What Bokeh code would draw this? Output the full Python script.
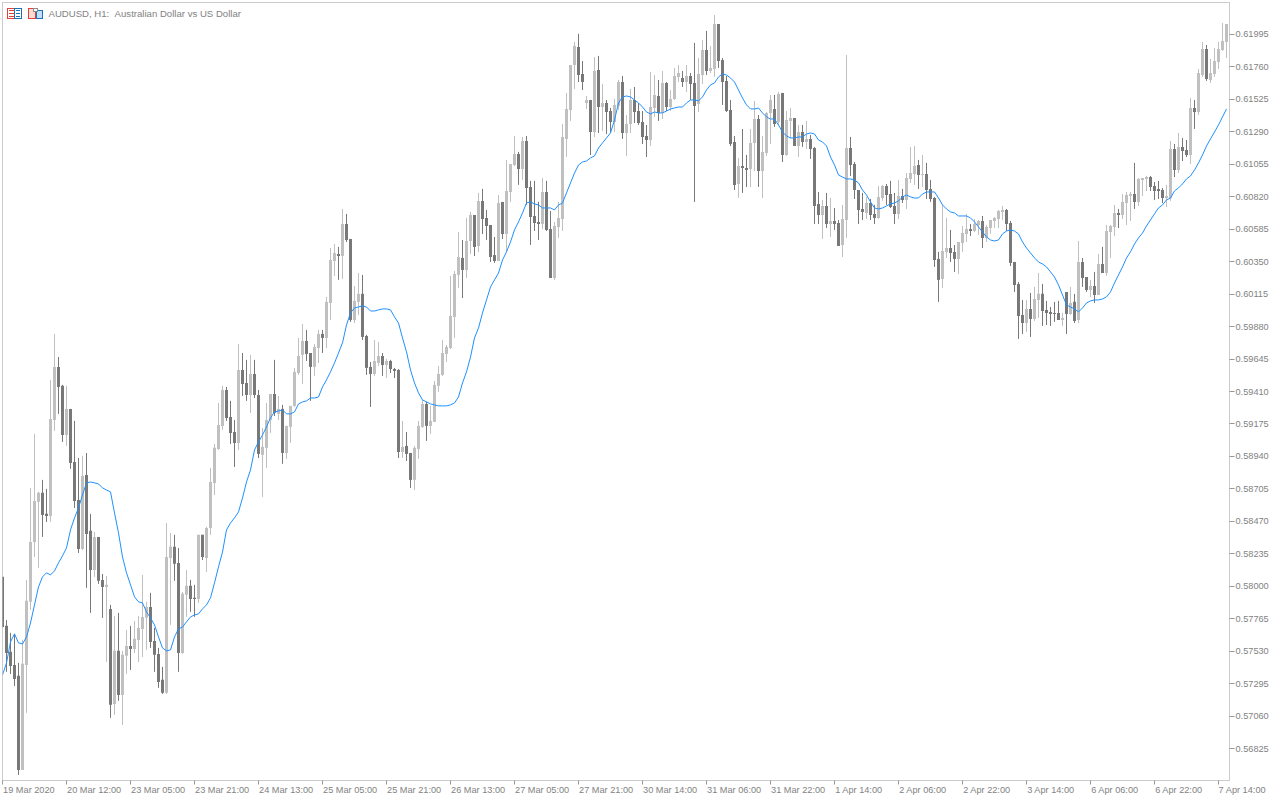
from bokeh.plotting import figure
from bokeh.models import BoxAnnotation, ColumnDataSource, FixedTicker, Label, LinearAxis, PrintfTickFormatter, Range1d
from bokeh.embed import file_html
from bokeh.resources import INLINE

# AUDUSD H1 candles, prices in points (1 point = 0.00001)
highs = [58068,57756,57662,57655,57445,57611,58046,58712,59103,58683,
58770,58705,59494,59827,59660,59458,59451,59284,59197,58929,
58944,58965,58524,58393,58357,58089,58075,57865,57785,57807,
57532,57684,57713,57749,57785,58082,57887,57952,57698,57553,
57416,58458,58386,58372,58277,57959,58118,58046,58010,58372,
58372,58430,58857,59030,59327,59451,59443,59342,59204,59754,
59689,59639,59675,59639,59421,59146,59327,59392,59639,59378,
59313,59161,59306,59581,59798,59899,59856,59689,59754,59856,
59856,60095,60449,60478,60457,60732,60696,60515,60174,60268,
60254,59820,59624,59783,59769,59689,59646,59639,59581,59573,
59197,59117,58965,59016,59197,59349,59335,59306,59487,59595,
59783,59747,60247,60283,60565,60507,60667,60710,60688,60848,
60877,60725,60616,60529,60833,60783,61087,61058,61260,61145,
61253,61260,60935,60935,60783,60956,60935,60717,60638,60783,
61347,61572,61774,61941,62000,61803,61550,61521,61832,61840,
61637,61521,61463,61528,61666,61695,61412,61601,61615,61499,
61441,61340,61724,61702,61666,61731,61651,61593,61753,61774,
61731,61774,61716,61934,61825,61955,62021,61912,62136,62071,
61825,61695,61521,61260,61101,61311,61123,61311,61514,61412,
61260,61434,61557,61557,61579,61572,61441,61463,61391,61340,
61340,61369,61268,61181,60855,60797,60848,60811,60739,60652,
60761,61847,61253,61072,60869,60848,60819,60804,60761,60898,
60906,60913,60935,60848,60942,60877,60992,61181,61188,61087,
61123,61065,60942,60819,60421,60761,60667,60580,60471,60493,
60609,60696,60623,60659,60652,60681,60616,60652,60674,60725,
60754,60732,60645,60348,60203,60073,60073,60124,60167,60268,
60189,60066,60022,60059,60066,59979,60131,60167,60117,60500,
60377,60239,60218,60276,60406,60457,60616,60616,60761,60732,
60840,60855,60855,61065,60956,60956,60971,60971,60927,60935,
60884,60906,61224,61202,61282,61246,61231,61535,61521,61745,
61941,61919,61818,61897,61941,62078,62071]

lows = [57705,57380,57365,57278,56634,56670,57083,57829,58212,58133,
58357,58466,58466,59125,59248,59045,59016,58850,58567,58241,
58263,57988,57807,58068,58017,57771,57452,57047,57068,57170,
56996,57365,57394,57517,57452,57488,57539,57553,57380,57264,
57220,57220,57720,58039,57380,57510,57778,57814,57778,57879,
58190,58104,58372,58661,58987,59132,59197,59030,58864,58987,
59378,59342,59255,59363,58929,58647,58857,59110,59233,59204,
58886,58922,59038,59298,59530,59465,59631,59342,59523,59617,
59689,59725,59928,60247,60218,60225,60493,59914,59906,59964,
59783,59530,59298,59523,59595,59523,59508,59544,59508,58929,
58929,58907,58712,58697,58922,59146,59052,59103,59190,59407,
59523,59624,59718,59798,60160,60087,60232,60406,60391,60421,
60551,60507,60348,60341,60355,60515,60421,60783,61043,60906,
60942,60761,60471,60572,60507,60587,60572,60232,60218,60522,
60572,61108,61369,61601,61651,61593,61456,61123,61253,61282,
61297,61275,61289,61289,61449,61239,61116,61282,61354,61340,
61202,61108,61188,61398,61369,61383,61441,61441,61521,61651,
61615,61579,61521,60783,61434,61637,61702,61716,61688,61753,
61485,61434,61188,60869,60811,60848,60891,60891,61007,60891,
60811,61116,61202,61326,61340,61072,61116,61246,61188,61108,
61181,61166,61094,60623,60623,60515,60594,60529,60580,60464,
60384,60522,60971,60804,60623,60652,60659,60652,60623,60659,
60790,60761,60739,60623,60659,60775,60732,60920,60906,60877,
60891,60804,60783,60312,60059,60160,60377,60348,60276,60261,
60421,60493,60536,60565,60544,60449,60493,60551,60594,60594,
60652,60572,60319,60131,59791,59827,59842,59805,59921,59943,
59885,59892,59885,59914,59928,59885,59827,59964,59906,59906,
60167,60131,60095,60051,60109,60268,60247,60377,60536,60594,
60659,60616,60645,60732,60754,60826,60862,60862,60797,60804,
60775,60746,60790,60963,60992,61079,61108,61058,61311,61412,
61688,61659,61644,61688,61745,61876,61825]

body_tops = [58068,57713,57525,57430,57351,57438,57894,58321,58618,58676,
58676,58524,59211,59588,59588,59451,59284,59284,58900,58625,
58799,58806,58401,58357,58357,58046,58010,57836,57532,57532,
57503,57568,57568,57619,57698,57778,57850,57850,57604,57510,
57322,58212,58285,58285,58169,57945,58003,58003,57916,58372,
58372,58422,58755,59002,59168,59421,59421,59226,59117,59566,
59566,59472,59537,59537,59385,59009,59204,59392,59392,59284,
59284,59161,59306,59552,59667,59776,59776,59689,59733,59827,
59827,60059,60362,60413,60406,60623,60623,60515,60066,60117,
60117,59812,59588,59631,59667,59667,59631,59631,59573,59566,
59009,59016,58965,59002,59161,59320,59320,59197,59458,59537,
59689,59733,59957,60261,60384,60377,60500,60688,60688,60790,
60790,60667,60616,60398,60775,60783,60862,61058,61130,61130,
61224,61224,60891,60681,60638,60855,60855,60587,60609,60667,
61253,61456,61774,61912,61905,61709,61521,61521,61731,61738,
61499,61499,61441,61485,61651,61651,61347,61521,61521,61441,
61362,61260,61470,61557,61550,61644,61644,61528,61695,61716,
61680,61695,61695,61644,61709,61883,61883,61753,62071,62071,
61811,61659,61449,61217,61043,61043,61029,61210,61383,61383,
61145,61427,61521,61456,61564,61572,61376,61391,61391,61289,
61289,61239,61239,61173,60768,60754,60754,60645,60645,60630,
60659,61173,61173,61058,60869,60732,60775,60775,60696,60819,
60898,60898,60840,60754,60826,60826,60956,60992,61043,61050,
60985,60985,60877,60811,60370,60428,60449,60449,60421,60493,
60558,60587,60587,60623,60645,60645,60602,60652,60667,60717,
60725,60725,60630,60348,60189,59964,60008,60008,60080,60117,
60117,60001,59986,59979,59979,59943,60131,60051,60059,60348,
60348,60239,60174,60174,60333,60333,60572,60609,60703,60703,
60783,60833,60840,60840,60949,60956,60963,60963,60898,60877,
60869,60826,61166,61166,61181,61181,61159,61463,61463,61716,
61890,61890,61716,61803,61890,61948,62071]

body_bottoms = [57705,57517,57423,57329,56670,56670,57430,57887,58321,58611,
58516,58509,58509,59204,59443,59095,59095,58893,58618,58270,
58270,58379,58118,58118,58039,57995,57995,57141,57148,57213,
57213,57496,57546,57546,57611,57691,57771,57597,57503,57307,
57228,57228,58205,58162,57517,57517,57938,57908,57908,57908,
58212,58205,58422,58748,58994,59161,59219,59110,59038,59038,
59465,59385,59385,59385,58958,58951,59002,59204,59255,59248,
58965,58965,59154,59306,59544,59675,59682,59588,59588,59725,
59798,59798,60051,60355,60391,60391,60507,59928,59928,60059,
59805,59581,59537,59537,59617,59602,59602,59573,59559,58972,
58972,58958,58770,58770,58994,59154,59161,59161,59190,59451,
59530,59682,59725,59950,60254,60290,60290,60500,60457,60464,
60659,60609,60384,60355,60355,60551,60551,60855,61050,61021,
61021,60884,60674,60630,60623,60623,60580,60232,60232,60602,
60659,61239,61449,61774,61702,61651,61499,61289,61289,61470,
61470,61434,61362,61362,61478,61282,61282,61347,61434,61354,
61253,61231,61231,61463,61427,61427,61470,61470,61528,61688,
61651,61651,61637,61478,61492,61702,61731,61731,61745,61803,
61651,61441,61202,60906,60913,61029,61014,61021,61210,61007,
61007,61137,61427,61347,61362,61123,61123,61369,61188,61188,
61217,61217,61166,60754,60688,60688,60623,60623,60623,60464,
60471,60652,61050,60869,60725,60710,60703,60688,60667,60667,
60811,60833,60746,60696,60696,60797,60797,60949,60985,60978,
60978,60869,60804,60362,60218,60225,60421,60413,60370,60370,
60486,60551,60572,60572,60616,60522,60522,60594,60645,60659,
60710,60623,60341,60181,59957,59906,59906,59935,59935,60073,
59993,59979,59972,59972,59928,59928,59972,59972,59921,59928,
60232,60145,60145,60109,60109,60268,60268,60565,60602,60688,
60688,60775,60826,60783,60783,60942,60949,60891,60862,60862,
60811,60811,60811,61014,61014,61152,61123,61123,61434,61434,
61702,61673,61666,61709,61796,61883,61941]

# D = falling hour (dark), L = rising hour (light)
directions = ("DDDDDLLLLL" "DDLLDDLDDD" "LDDLDDLDLD" "LLDLLLLDDD" "DLLDDLLDDL"
              "DLLLLLDDDL" "DDLDDLLLDL" "DLLLLLDDLL" "DLLLDLDDLL" "DDDLLDLDDD"
              "LDDLLLDLLL" "LLLLLDLLDL" "DDDDLDLLLD" "LDDDDLDDLL" "LLLLDDLDLD"
              "LDDLLDLLDD" "DDLLDLDLLL" "DLDDLLDLLD" "DDDDLDDLLD" "LLLDLDLLDL"
              "DLDDDLDLDD" "LLDDDDLDDL" "LDDDLDLLLD" "LDDDDLLDDL" "LLDLLDLLLL"
              "LDDDDDLDLL" "DDDDDLDLDL" "DDLDLDLLLD" "LLLDLLLDDD" "DLLDLDDLDL"
              "LDLLLLL")

moving_average = [57358,57445,57597,57655,57590,57582,57633,57734,57865,57995,
58068,58097,58082,58111,58169,58220,58277,58408,58495,58567,
58661,58748,58755,58748,58741,58712,58697,58683,58531,58386,
58212,58097,58010,57923,57887,57879,57814,57771,57720,57633,
57553,57532,57539,57633,57691,57705,57742,57778,57792,57800,
57836,57865,57916,58024,58140,58248,58408,58458,58495,58538,
58639,58755,58842,58987,59045,59095,59154,59219,59262,59269,
59277,59248,59248,59262,59320,59335,59342,59363,59363,59370,
59443,59494,59552,59617,59689,59762,59892,59979,60015,60022,
60030,60022,59993,59993,60001,60008,60008,60001,59950,59906,
59798,59697,59566,59472,59400,59349,59335,59320,59313,59306,
59306,59306,59313,59327,59370,59472,59552,59660,59798,59870,
59979,60073,60167,60218,60268,60362,60421,60493,60580,60638,
60703,60775,60783,60768,60761,60739,60739,60739,60725,60761,
60775,60848,60920,60992,61050,61072,61079,61101,61116,61173,
61210,61246,61282,61376,61499,61543,61550,61543,61521,61499,
61470,61434,61420,61434,61427,61427,61441,61456,61463,61470,
61470,61499,61521,61521,61514,61543,61593,61630,61644,61688,
61709,61702,61680,61651,61593,61535,61485,61456,61456,61463,
61427,61398,61383,61383,61340,61289,61260,61246,61246,61253,
61253,61275,61282,61275,61231,61217,61188,61108,61050,60978,
60963,60949,60949,60942,60920,60869,60833,60783,60739,60732,
60739,60754,60768,60775,60790,60819,60833,60819,60811,60811,
60840,60855,60855,60855,60811,60761,60732,60710,60703,60681,
60681,60681,60667,60638,60602,60565,60529,60507,60500,60507,
60551,60572,60580,60572,60551,60493,60449,60413,60377,60348,
60333,60312,60276,60239,60181,60109,60037,60022,60008,59986,
60015,60051,60066,60073,60073,60080,60095,60131,60196,60254,
60312,60377,60421,60478,60522,60558,60609,60652,60696,60739,
60761,60797,60811,60862,60884,60913,60949,60971,61014,61065,
61123,61188,61239,61289,61340,61398,61456]

price_ticks = [0.61995,0.61760,0.61525,0.61290,0.61055,0.60820,0.60585,0.60350,
0.60115,0.59880,0.59645,0.59410,0.59175,0.58940,0.58705,0.58470,0.58235,0.58000,
0.57765,0.57530,0.57295,0.57060,0.56825]

time_labels = ["19 Mar 2020","20 Mar 12:00","23 Mar 05:00","23 Mar 21:00","24 Mar 13:00",
"25 Mar 05:00","25 Mar 21:00","26 Mar 13:00","27 Mar 05:00","27 Mar 21:00","30 Mar 14:00",
"31 Mar 06:00","31 Mar 22:00","1 Apr 14:00","2 Apr 06:00","2 Apr 22:00","3 Apr 14:00",
"6 Apr 06:00","6 Apr 22:00","7 Apr 14:00"]
hours_per_label = 16

title_text = "AUDUSD, H1:\u00a0\u00a0Australian Dollar vs US Dollar"

n = len(highs)
assert all(len(a) == n for a in (lows, body_tops, body_bottoms, moving_average)) and len(directions) == n

UP, DOWN, MA, AX, TXT = "#c0c0c0", "#787878", "#1e90ff", "#97979d", "#828282"
FONT = "Liberation Sans"

idx = list(range(n))
src = ColumnDataSource(dict(
    x=idx,
    high=[v / 1e5 for v in highs], low=[v / 1e5 for v in lows],
    top=[v / 1e5 for v in body_tops], bottom=[v / 1e5 for v in body_bottoms],
    color=[UP if d == "L" else DOWN for d in directions],
    ma=[v / 1e5 for v in moving_average],
))

p = figure(width=1280, height=800,
           output_backend="svg", toolbar_location=None, y_axis_location="right",
           x_range=Range1d(0, 306.75), y_range=Range1d(0.565933, 0.622267),
           min_border_left=2, min_border_top=2, min_border_right=51, min_border_bottom=20,
           background_fill_color="white", border_fill_color="white", outline_line_color=None)
p.grid.visible = False

p.segment("x", "high", "x", "low", source=src, color="color", line_width=1)
p.vbar("x", 0.75, "top", "bottom", source=src, fill_color="color", line_color=None)
p.line("x", "ma", source=src, color=MA, line_width=1)

ya = p.yaxis[0]
ya.ticker = FixedTicker(ticks=price_ticks)
ya.formatter = PrintfTickFormatter(format="%.5f")
ya.major_tick_in, ya.major_tick_out, ya.minor_tick_out, ya.minor_tick_in = 0, 5, 0, 0
ya.major_tick_line_color = AX
ya.axis_line_color = None
ya.major_label_standoff = 1
ya.major_label_text_color = TXT
ya.major_label_text_font = FONT
ya.major_label_text_font_size = "9.2px"

# tick marks on the main time axis
xticks = [i * hours_per_label for i in range(len(time_labels))]
xa = p.xaxis[0]
xa.ticker = FixedTicker(ticks=xticks)
xa.major_tick_in, xa.major_tick_out, xa.minor_tick_out, xa.minor_tick_in = 0, 4, 0, 0
xa.major_tick_line_color = AX
xa.axis_line_color = None
xa.major_label_text_color = None
xa.major_label_text_font_size = "1px"
xa.major_label_standoff = 0
xa.major_label_overrides = {k: "" for k in xticks}

# MT5 puts each time label to the right of its tick: a second axis carries the
# texts, each centred half its own width (in hours, 4px per hour) past the tick.
# The last label's centre would lie past the axis end, so its tick stays inside
# and leading no-break spaces push the visible text to the right instead.
def half_width(t):
    return 6.1 if "Apr" in t else (6.6 if "2020" in t else 6.9)

label_ticks = [k + half_width(t) for k, t in zip(xticks[:-1], time_labels[:-1])] + [xticks[-1] + 1.5]
label_texts = time_labels[:-1] + ["\u00a0" * 14 + time_labels[-1]]
la = LinearAxis(ticker=FixedTicker(ticks=label_ticks),
                major_label_overrides=dict(zip(label_ticks, label_texts)),
                axis_line_color=None, major_tick_line_color=None, minor_tick_line_color=None,
                major_tick_in=0, major_tick_out=0, minor_tick_in=0, minor_tick_out=0,
                major_label_standoff=0, major_label_text_color=TXT,
                major_label_text_font=FONT, major_label_text_font_size="9.2px")
p.add_layout(la, "below")

p.add_layout(Label(x=48, y=12.5, x_units="canvas", y_units="canvas", text=title_text,
                   text_color=TXT, text_font=FONT, text_font_size="9.6px",
                   text_baseline="middle"))

def box(l, t, r, b, fill, line=None):
    p.add_layout(BoxAnnotation(left=l - 0.5, right=r - 0.5, top=t - 0.5, bottom=b - 0.5,
                               left_units="canvas", right_units="canvas",
                               top_units="canvas", bottom_units="canvas", fill_color=fill, fill_alpha=1,
                               line_color=line, level="overlay", editable=False))

# chart frame
box(2, 2, 1230, 3, AX)
box(2, 2, 3, 781, AX)
box(1229, 2, 1230, 781, AX)
box(2, 780, 1230, 781, AX)

# toolbar icons
RED, BLUE = "#e2403a", "#1d6fb8"
box(7, 8, 15, 19, RED); box(8, 9, 14, 18, "white")
box(9, 10, 14, 11, RED); box(9, 13, 14, 14, RED); box(9, 16, 14, 17, RED)
box(14, 8, 22, 19, BLUE); box(15, 9, 21, 18, "white")
box(16, 10, 20, 11, BLUE); box(16, 13, 20, 14, BLUE); box(16, 16, 20, 17, BLUE)
box(28, 8, 36, 19, RED); box(29, 9, 35, 18, "#fbdcd3")
box(36, 10, 43, 19, BLUE); box(37, 11, 42, 18, "#bfe0f5")
box(33, 8, 38, 12, "#8c8c8c"); box(34, 9, 37, 11, "white")

html = file_html(p, INLINE).replace("<body>", '<body style="margin:0;overflow:hidden">')
open("out.html", "w").write(html)
